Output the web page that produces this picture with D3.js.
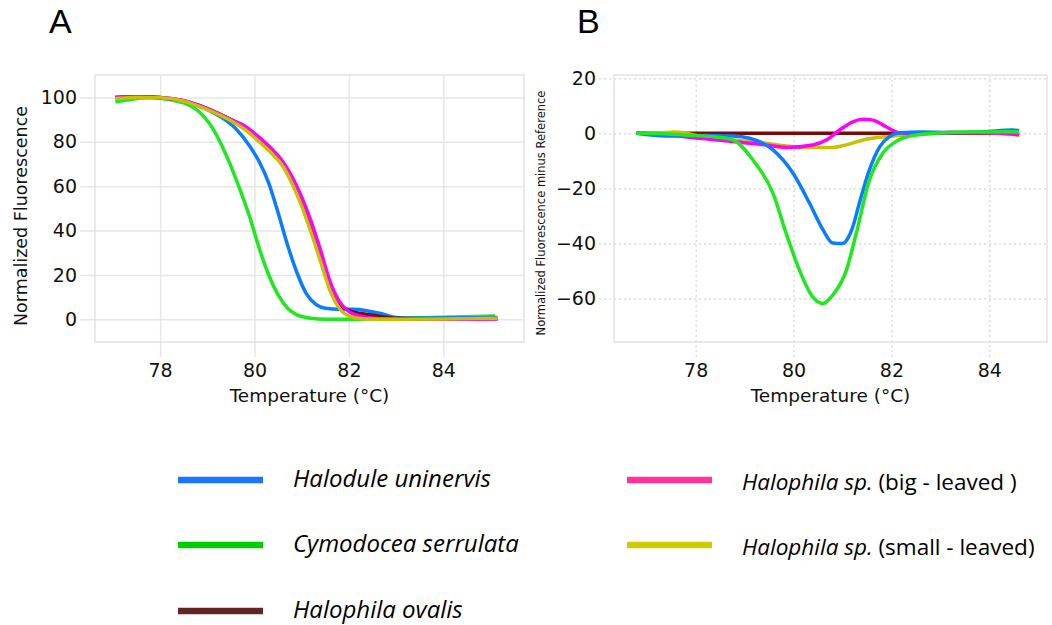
<!DOCTYPE html>
<html>
<head>
<meta charset="utf-8">
<script src="https://cdn.jsdelivr.net/npm/d3@7"></script>
<style>
  body { margin: 0; background: #fff; }
  .tick text { font-family: "DejaVu Sans", sans-serif; font-size: 19px; fill: #111; }
</style>
</head>
<body>
<div class="graph"></div>
<script>
// Species names and colours (chart lines / legend swatches)
const species = ["Halodule uninervis", "Cymodocea serrulata", "Halophila ovalis", "Halophila sp.", "Halophila sp."];
const speciesSuffix = ["", "", "", " (big - leaved )", " (small - leaved)"];
const lineColors = ["#0a7cff", "#1ee81e", "#7a0a0a", "#ff00ff", "#c8c000"];
const legendColors = ["#1a75ff", "#00cc00", "#632424", "#ff3399", "#cccc00"];

// Panel A: normalized melt curves [temperature, fluorescence]
const meltHalodule = [[77.05,100],[77.5,100.3],[78,99.8],[78.5,98.3],[79,94.5],[79.3,91],[79.6,86],[79.9,78],[80.1,71],[80.3,61.5],[80.5,48],[80.7,33.5],[80.9,21],[81.1,11.5],[81.3,6.8],[81.5,5],[81.8,4.5],[82.1,4.5],[82.4,3.8],[82.7,2.5],[83,0.8],[83.3,0.5],[84,0.6],[85.15,0.8]];
const meltCymodocea = [[77.05,98],[77.4,99.2],[77.8,99.8],[78.2,99],[78.5,97.5],[78.8,94],[79.1,86.5],[79.4,74],[79.7,58],[79.9,46],[80.1,32],[80.3,20],[80.5,11],[80.7,5],[80.9,2],[81.2,0.5],[81.5,0],[82,0],[82.5,0.3],[83,0.6],[84,0.9],[85.1,1.5]];
const meltOvalis = [[77.05,100],[77.5,100.3],[78,100],[78.5,98.5],[79,95],[79.5,90],[79.8,86.5],[80.1,81.5],[80.4,75.5],[80.6,70],[80.8,62.5],[81,52.5],[81.2,40.5],[81.4,27.5],[81.6,15],[81.8,7],[82,4],[82.3,2.5],[82.7,1.2],[83,0.5],[84,0.2],[85.15,0.3]];
const meltBig = [[77.05,100],[77.5,100.3],[78,100],[78.5,98.5],[79,95],[79.5,90],[79.8,87],[80.1,82],[80.4,76],[80.6,71],[80.8,64],[81,55],[81.2,44],[81.4,31],[81.6,17],[81.8,8],[82,3.5],[82.3,1.2],[82.7,0.3],[83.5,0],[84.5,0],[85.15,0.3]];
const meltSmall = [[77.05,99.5],[77.5,100],[78,99.8],[78.5,98.3],[79,94.5],[79.5,89.5],[79.8,85.5],[80.1,80],[80.4,74],[80.6,69],[80.8,61],[81,51],[81.2,39],[81.4,26],[81.6,13],[81.8,5],[82,1.5],[82.3,0.3],[83,0],[84,0.2],[85.15,0.5]];

// Panel B: difference curves [temperature, fluorescence minus reference]
const diffHalodule = [[76.79,0],[77.4,-1],[78.1,-0.8],[78.76,-1],[79.1,-1.8],[79.58,-6],[79.99,-14.5],[80.33,-25.5],[80.6,-35],[80.8,-39.8],[81,-40],[81.2,-34.5],[81.35,-25],[81.55,-13.3],[81.76,-4.9],[81.96,-1.2],[82.16,0.2],[82.64,0.5],[83.18,0.3],[83.86,0.5],[84.47,1.2],[84.61,1]];
const diffCymodocea = [[76.79,0],[77.5,-0.3],[78,-0.8],[78.4,-1.3],[78.76,-2.4],[79.17,-9.7],[79.58,-21.8],[79.85,-36.4],[80.12,-49.7],[80.39,-59.4],[80.6,-61.8],[80.8,-58.8],[81.08,-49.7],[81.28,-36.4],[81.55,-17],[81.82,-7.3],[82.09,-3],[82.5,-0.6],[83.18,0.3],[83.86,0.5],[84.4,0.6],[84.61,0.5]];
const diffOvalis = [[76.79,0],[78,0],[80,0],[82,0],[84,0],[84.61,0]];
const diffBig = [[76.79,0],[77.4,-0.5],[78.08,-1.8],[78.76,-3],[79.44,-4.2],[79.85,-5.1],[80.39,-4.2],[80.67,-2.4],[80.94,1.2],[81.21,4.2],[81.42,5.1],[81.62,4.8],[81.89,2.4],[82.16,0.2],[82.5,-0.2],[83.18,0.3],[84,0.2],[84.61,-0.5]];
const diffSmall = [[76.79,0],[77.4,0.3],[77.6,0.5],[78.08,-1],[78.76,-2.4],[79.44,-3.6],[79.85,-4.6],[80.26,-5.1],[80.8,-5.1],[81.08,-4.2],[81.42,-2.4],[81.96,-1.1],[82.5,-0.4],[83.18,0.3],[83.86,0.3],[84.54,-0.5],[84.61,-0.6]];

// Ticks
const tempTicks = [78, 80, 82, 84];
const meltTicks = [0, 20, 40, 60, 80, 100];
const diffTicks = [-60, -40, -20, 0, 20];

const svg = d3.select(".graph")
    .append("svg")
        .attr("width", 1052)
        .attr("height", 625);

function drawPanel(opts) {
    const g = svg.append("g")
        .attr("transform", `translate(${opts.left},${opts.top})`);

    const xScale = d3.scaleLinear().domain(opts.xDomain).range([0, opts.width]);
    const yScale = d3.scaleLinear().domain(opts.yDomain).range([opts.height, 0]);

    // x axis with gridlines poking out below the frame
    const xAxis = g.append("g")
        .attr("transform", `translate(0,${opts.height + 15})`)
        .call(d3.axisBottom(xScale).tickValues(tempTicks).tickSize(-(opts.height + 15)).tickPadding(7));
    // y axis with gridlines poking out to the left
    const yAxis = g.append("g")
        .attr("transform", "translate(-15,0)")
        .call(d3.axisLeft(yScale).tickValues(opts.yTicks).tickSize(-(opts.width + 15)).tickPadding(3));

    [xAxis, yAxis].forEach(ax => {
        ax.select(".domain").remove();
        ax.selectAll(".tick line")
            .attr("stroke", opts.gridColor)
            .attr("stroke-width", 1.5)
            .attr("stroke-dasharray", opts.dash);
    });

    // frame
    g.append("rect")
        .attr("width", opts.width)
        .attr("height", opts.height)
        .attr("fill", "none")
        .attr("stroke", "#e2e2e2")
        .attr("stroke-width", 1.5);

    const line = d3.line()
        .x(d => xScale(d[0]))
        .y(d => yScale(d[1]))
        .curve(d3.curveMonotoneX);

    opts.series.forEach((s, i) => {
        g.append("path")
            .attr("d", line(s))
            .attr("fill", "none")
            .attr("stroke", lineColors[opts.order[i]])
            .attr("stroke-width", 3.5)
            .attr("stroke-linejoin", "round");
    });

    // x title
    g.append("text")
        .attr("x", opts.width / 2)
        .attr("y", opts.height + 60)
        .attr("text-anchor", "middle")
        .style("font-family", "DejaVu Sans, sans-serif")
        .style("font-size", "18.5px")
        .attr("fill", "#111")
        .text("Temperature (\u00b0C)");

    // y title
    g.append("text")
        .attr("transform", `translate(${opts.yTitleX},${opts.yTitleY}) rotate(-90)`)
        .attr("text-anchor", "middle")
        .style("font-family", "DejaVu Sans, sans-serif")
        .style("font-size", opts.yTitleSize)
        .attr("fill", "#111")
        .text(opts.yTitle);
}

drawPanel({
    left: 95, top: 75, width: 429, height: 267,
    xDomain: [76.62, 85.71], yDomain: [-10.2, 110.1],
    yTicks: meltTicks, gridColor: "#e6e6e6", dash: null,
    series: [meltCymodocea, meltHalodule, meltOvalis, meltBig, meltSmall],
    order: [1, 0, 2, 3, 4],
    yTitle: "Normalized Fluorescence", yTitleSize: "17.5px", yTitleX: -68, yTitleY: 141
});

drawPanel({
    left: 614, top: 75, width: 433, height: 267,
    xDomain: [76.33, 85.18], yDomain: [-75.8, 21.2],
    yTicks: diffTicks, gridColor: "#dcdcdc", dash: "2,3",
    series: [diffOvalis, diffSmall, diffBig, diffHalodule, diffCymodocea],
    order: [2, 4, 3, 0, 1],
    yTitle: "Normalized Fluorescence minus Reference", yTitleSize: "11.5px", yTitleX: -69, yTitleY: 138
});

// Panel letters
[["A", 49], ["B", 577]].forEach(([t, x]) => {
    svg.append("text")
        .attr("x", x)
        .attr("y", 33)
        .style("font-family", "Liberation Sans, Arial, sans-serif")
        .style("font-size", "34px")
        .attr("fill", "#000")
        .text(t);
});

// Legend
const legendX = [178, 627];
const legendFont = ["24px", "22.5px"];
const legendRowY = [480, 545, 611];
const legendPos = [[0, 0], [0, 1], [0, 2], [1, 0], [1, 1]];

species.forEach((name, i) => {
    const [col, row] = legendPos[i];
    const x0 = legendX[col];
    const y0 = legendRowY[row];
    svg.append("line")
        .attr("x1", x0).attr("x2", x0 + 85)
        .attr("y1", y0).attr("y2", y0)
        .attr("stroke", legendColors[i])
        .attr("stroke-width", 6.5);
    const txt = svg.append("text")
        .attr("x", x0 + 115)
        .attr("y", y0 + 7 + col * 3)
        .style("font-family", "Open Sans, sans-serif")
        .style("font-size", legendFont[col])
        .attr("fill", "#000");
    txt.append("tspan").style("font-style", "italic").text(name);
    if (speciesSuffix[i]) txt.append("tspan").text(speciesSuffix[i]);
});
</script>
</body>
</html>
